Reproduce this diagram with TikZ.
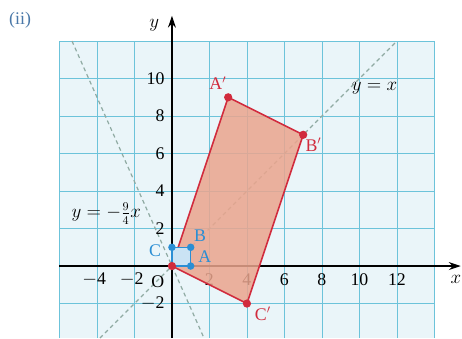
\documentclass[tikz,border=0pt]{standalone}
\usepackage{xcolor}
\usepackage{tikz}
\usetikzlibrary{arrows.meta}
\usepackage{fontspec}
\setmainfont{Liberation Serif}
\definecolor{gridcyan}{HTML}{6CC3DA}
\definecolor{paper}{HTML}{EAF5F9}
\definecolor{imgred}{HTML}{D12B3D}
\definecolor{imgfill}{HTML}{EBA58E}
\definecolor{objblue}{HTML}{2A8ED4}
\definecolor{dashgrey}{HTML}{8FAAA2}
\definecolor{tagblue}{HTML}{4A78A8}
\newcommand{\pr}{$'$}

\begin{document}
\begin{tikzpicture}[x=0.5cm,y=0.5cm,font=\fontsize{13.5}{16}\selectfont]
\useasboundingbox (-9.17,-3.84) rectangle (15.47,14.19);
% grid paper
\fill[paper] (-6,-3.84) rectangle (14,12);
\draw[gridcyan,line width=0.6pt] (-6,-3.84) grid[step=2] (14,12);
\draw[gridcyan,line width=0.6pt] (-6,12) -- (14,12);
% mirror lines
\draw[dashgrey,dashed,line width=0.9pt,dash pattern=on 3pt off 2.5pt] (-3.84,-3.84) -- (12,12);
\draw[dashgrey,dashed,line width=0.9pt,dash pattern=on 3pt off 2.5pt] (-5.33,12) -- (1.71,-3.84);
% axes
\draw[line width=0.9pt,-{Stealth[length=9pt,width=6pt]}] (-6,0) -- (15.4,0);
\draw[line width=0.9pt,-{Stealth[length=9pt,width=6pt]}] (0,-3.84) -- (0,13.35);
\node at (15.15,-0.7) {$x$};
\node at (-0.95,12.85) {$y$};
\node at (-8.1,13.1) [tagblue] {(ii)};
% scale
\foreach \t in {2,4,...,12} \node at (\t,-0.72) {\t};
\node at (-4.15,-0.72) {$-$4};
\node at (-2.15,-0.72) {$-$2};
\node at (-0.75,-0.85) {O};
\foreach \t in {2,4,...,10} \node[anchor=east] at (-0.15,\t) {\t};
\node[anchor=east] at (-0.15,-2) {$-$2};
% points
\coordinate (O) at (0,0);
\coordinate (A) at (1,0);
\coordinate (B) at (1,1);
\coordinate (C) at (0,1);
\coordinate (Ap) at (3,9);
\coordinate (Bp) at (7,7);
\coordinate (Cp) at (4,-2);
% image
\draw[imgred,line width=1.2pt,fill=imgfill,fill opacity=0.85] (O) -- (Ap) -- (Bp) -- (Cp) -- cycle;
% object
\draw[objblue,line width=1.2pt,fill=objblue!25] (O) -- (A) -- (B) -- (C) -- cycle;
\foreach \p in {A,B,C} \fill[objblue] (\p) circle (0.2);
\foreach \p in {O,Ap,Bp,Cp} \fill[imgred] (\p) circle (0.22);
\node[objblue] at (1.75,0.5) {A};
\node[objblue] at (1.5,1.6) {B};
\node[objblue] at (-0.9,0.8) {C};
\node[imgred] at (2.45,9.75) {A\pr};
\node[imgred] at (7.55,6.45) {B\pr};
\node[imgred] at (4.85,-2.55) {C\pr};
\node at (10.8,9.5) {$y=x$};
\node at (-3.5,2.8) {$y=-\frac{9}{4}x$};
\end{tikzpicture}
\end{document}
